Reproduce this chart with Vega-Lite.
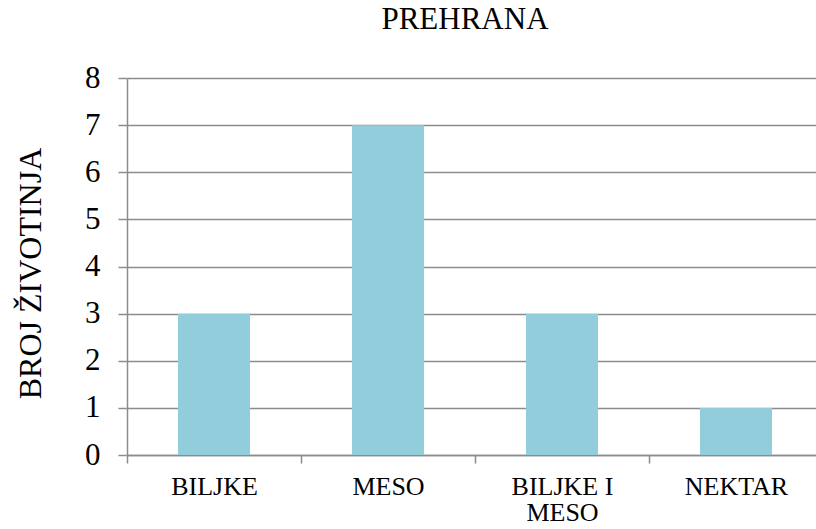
{
  "$schema": "https://vega.github.io/schema/vega-lite/v6.json",
  "autosize": {"type": "none"},
  "padding": {"left": 127, "top": 78, "right": 0, "bottom": 74},
  "width": 696,
  "height": 377,
  "background": "white",
  "title": {
    "text": "PREHRANA",
    "font": "Liberation Serif",
    "fontSize": 31,
    "fontWeight": "normal",
    "color": "black",
    "anchor": "middle",
    "frame": "group",
    "dx": -10,
    "offset": 26
  },
  "data": {
    "values": [
      {"kategorija": "BILJKE", "broj": 3},
      {"kategorija": "MESO", "broj": 7},
      {"kategorija": "BILJKE I MESO", "broj": 3},
      {"kategorija": "NEKTAR", "broj": 1}
    ]
  },
  "mark": {"type": "bar", "color": "#92CDDC", "width": {"band": 0.414}},
  "encoding": {
    "x": {
      "field": "kategorija",
      "type": "nominal",
      "sort": null,
      "scale": {"paddingInner": 0, "paddingOuter": 0},
      "axis": {
        "title": null,
        "labelAngle": 0,
        "labelFont": "Liberation Serif",
        "labelFontSize": 26,
        "labelColor": "black",
        "labelPadding": 10,
        "labelLineHeight": 26,
        "labelBaseline": "top",
        "labelExpr": "datum.label == 'BILJKE I MESO' ? ['BILJKE I', 'MESO'] : datum.label",
        "tickBand": "extent",
        "tickSize": 8,
        "tickColor": "#8c8c8c",
        "tickWidth": 1.5,
        "domainColor": "#8c8c8c",
        "domainWidth": 1.5,
        "grid": false
      }
    },
    "y": {
      "field": "broj",
      "type": "quantitative",
      "scale": {"domain": [0, 8], "nice": false},
      "axis": {
        "title": "BROJ ŽIVOTINJA",
        "titleFont": "Liberation Serif",
        "titleFontSize": 32,
        "titleFontWeight": "normal",
        "titleColor": "black",
        "titleX": -97,
        "titleY": 195,
        "titleAlign": "center",
        "titleBaseline": "middle",
        "titleAngle": -90,
        "values": [0, 1, 2, 3, 4, 5, 6, 7, 8],
        "labelFont": "Liberation Serif",
        "labelFontSize": 31,
        "labelColor": "black",
        "labelPadding": 18,
        "tickSize": 9,
        "tickColor": "#8c8c8c",
        "tickWidth": 1.5,
        "domainColor": "#8c8c8c",
        "domainWidth": 1.5,
        "grid": true,
        "gridColor": "#8c8c8c",
        "gridWidth": 1.5
      }
    }
  },
  "config": {"view": {"stroke": null}}
}
